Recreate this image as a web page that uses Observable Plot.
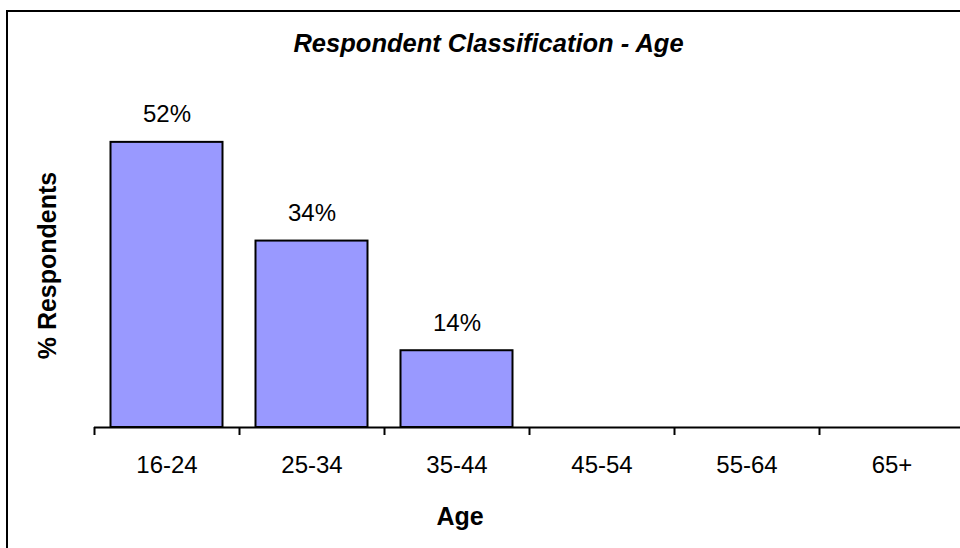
<!DOCTYPE html>
<html>
<head>
<meta charset="utf-8">
<script src="https://cdn.jsdelivr.net/npm/d3@7"></script>
<script src="https://cdn.jsdelivr.net/npm/@observablehq/plot@0.6"></script>
<style>
  html, body { margin: 0; padding: 0; background: #fff; }
  #wrap { position: relative; width: 960px; height: 548px; overflow: hidden; background: #fff; }
  #border { position: absolute; left: 6px; top: 10px; width: 1200px; height: 1200px; border-top: 2px solid #000; border-left: 2px solid #000; box-sizing: border-box; pointer-events: none; }
  #wrap svg { position: absolute; left: 0; top: 0; font-family: "Liberation Sans", Arial, sans-serif; }
</style>
</head>
<body>
<div id="wrap"><div id="border"></div></div>
<script>
const ageGroups = ["16-24", "25-34", "35-44", "45-54", "55-64", "65+"];
const percentValues = [52, 34, 14, 0, 0, 0];
const chartTitle = "Respondent Classification - Age";
const yLabel = "% Respondents";
const xLabel = "Age";

const data = ageGroups.map((g, i) => ({group: g, value: percentValues[i]}));
const xRange = [94, 964];
const step = (xRange[1] - xRange[0]) / ageGroups.length;
const font = "Liberation Sans, Arial, sans-serif";

const chart = Plot.plot({
  width: 960,
  height: 548,
  marginTop: 98,
  marginBottom: 121,
  marginLeft: 94,
  marginRight: 0,
  style: {fontFamily: font, background: "transparent", overflow: "hidden"},
  x: {type: "band", domain: ageGroups, range: xRange, padding: 0, label: null},
  y: {domain: [0, 60], axis: null, label: null},
  marks: [
    Plot.barY(data.filter(d => d.value > 0), {
      x: "group", y: "value", fill: "#9999FF", stroke: "#000", strokeWidth: 2,
      insetLeft: 16.5, insetRight: 16.5
    }),
    Plot.text(data.filter(d => d.value > 0), {
      x: "group", y: "value", text: d => d.value + "%",
      lineAnchor: "bottom", dy: -20, fontSize: 24, fill: "#000", fontFamily: font
    }),
    Plot.ruleY([0], {stroke: "#000", strokeWidth: 2}),
    Plot.axisX({tickSize: 8, tickFormat: () => "", label: null, dx: -step / 2, strokeWidth: 2, stroke: "#000"}),
    Plot.axisX({tickSize: 0, tickPadding: 28, label: null, fontSize: 24, fill: "#000", fontFamily: font}),
    Plot.text([xLabel], {
      frameAnchor: "bottom-left", dx: 459.5 - 94, dy: 97, text: d => d, textAnchor: "middle",
      fontSize: 25, fontWeight: "bold", fill: "#000", fontFamily: font
    }),
    Plot.text([yLabel], {
      frameAnchor: "left", dx: -47, dy: 2.5, rotate: -90, text: d => d, textAnchor: "middle",
      fontSize: 25, fontWeight: "bold", fill: "#000", fontFamily: font
    }),
    Plot.text([chartTitle], {
      frameAnchor: "top-left", dx: 488 - 94, dy: -65, text: d => d, textAnchor: "middle",
      fontSize: 25.5, fontWeight: "bold", fontStyle: "italic", fill: "#000", fontFamily: font
    })
  ]
});
document.getElementById("wrap").prepend(chart);
</script>
</body>
</html>
